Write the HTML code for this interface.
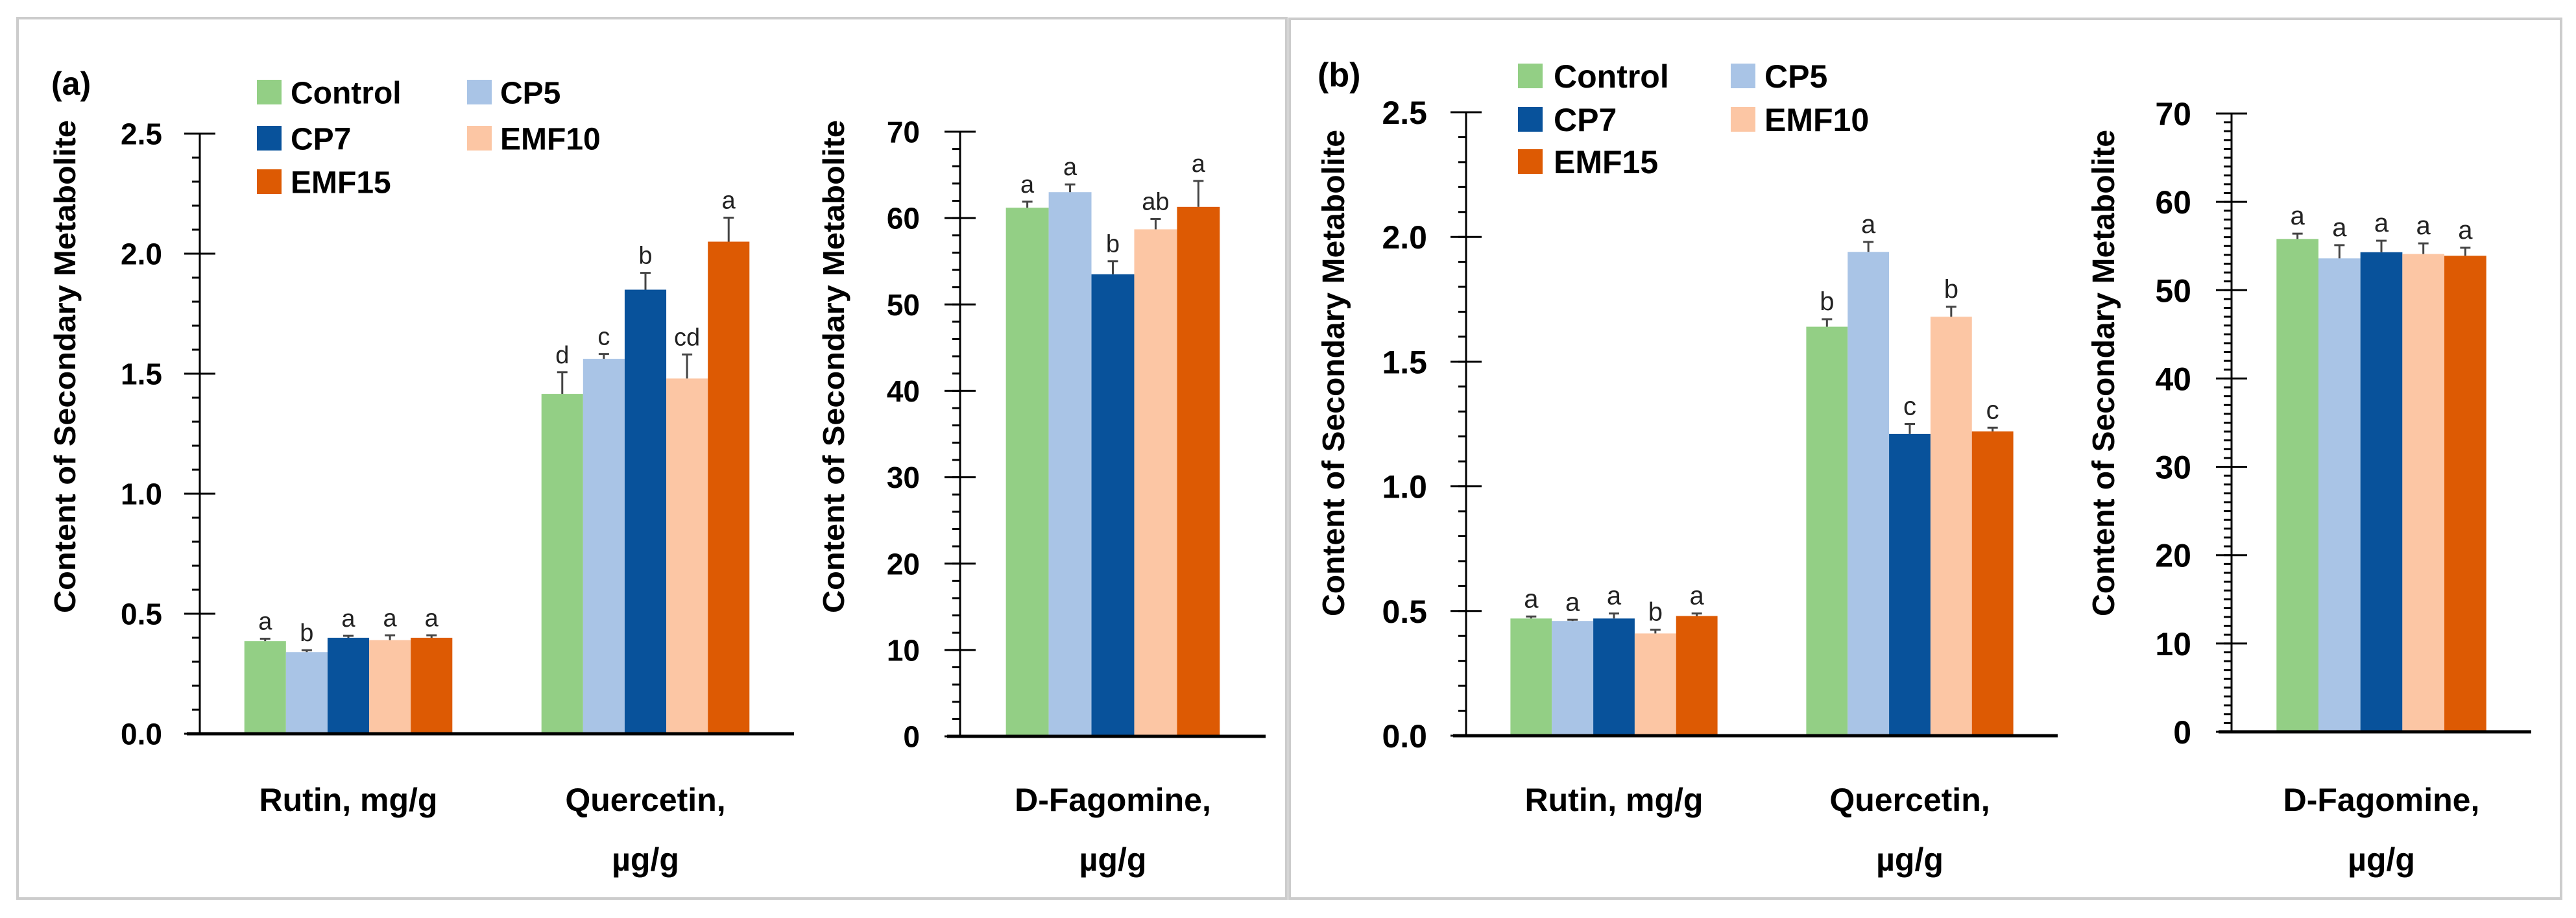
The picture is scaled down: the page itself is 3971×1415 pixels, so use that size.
<!DOCTYPE html>
<html><head><meta charset="utf-8"><style>
html,body{margin:0;padding:0;background:#fff}
svg{display:block;font-family:"Liberation Sans",sans-serif}
</style></head><body>
<svg id="fig" width="3971" height="1415" viewBox="0 0 3971 1415">
<rect x="27" y="28" width="1956" height="1357" fill="none" stroke="#ccc" stroke-width="4"/>
<rect x="1988" y="29" width="1960" height="1356" fill="none" stroke="#ccc" stroke-width="4"/>
<text x="79" y="146" font-size="50" font-weight="bold">(a)</text>
<text x="2031" y="133" font-size="52" font-weight="bold">(b)</text>
</svg>
<script>
const series = ["Control","CP5","CP7","EMF10","EMF15"];
const colors = ["#93cf85","#a9c4e6","#08529b","#fcc6a4","#dd5a03"];
const catsLeft = [["Rutin, mg/g"],["Quercetin,","\u00b5g/g"]];
const catsRight = [["D-Fagomine,","\u00b5g/g"]];
const aRutin = [0.386,0.34,0.40,0.39,0.40];
const aRutinErr = [0.01,0.008,0.008,0.02,0.01];
const aRutinLet = ["a","b","a","a","a"];
const aQuer = [1.416,1.562,1.85,1.48,2.05];
const aQuerErr = [0.09,0.02,0.07,0.10,0.10];
const aQuerLet = ["d","c","b","cd","a"];
const aFag = [61.2,63.0,53.5,58.7,61.3];
const aFagErr = [0.7,0.9,1.5,1.2,3.0];
const aFagLet = ["a","a","b","ab","a"];
const bRutin = [0.47,0.46,0.47,0.41,0.48];
const bRutinErr = [0.008,0.005,0.02,0.015,0.01];
const bRutinLet = ["a","a","a","b","a"];
const bQuer = [1.64,1.94,1.21,1.68,1.22];
const bQuerErr = [0.03,0.04,0.04,0.04,0.015];
const bQuerLet = ["b","a","c","b","c"];
const bFag = [55.8,53.6,54.3,54.1,53.9];
const bFagErr = [0.6,1.5,1.3,1.2,0.9];
const bFagLet = ["a","a","a","a","a"];
const leftTicks = ["0.0","0.5","1.0","1.5","2.0","2.5"];
const rightTicks = ["0","10","20","30","40","50","60","70"];

const NS="http://www.w3.org/2000/svg";
const svg=document.getElementById('fig');
function mk(tag,attrs,parent){const e=document.createElementNS(NS,tag);for(const k in attrs)e.setAttribute(k,attrs[k]);(parent||svg).appendChild(e);return e;}

function chart(o){
  const g=mk('g',{});
  
  
  const y=v=>o.y0-(v-o.min)/(o.max-o.min)*(o.y0-o.yTop);
  for(let v=o.min;v<=o.max+1e-9;v+=o.minor){
    const t=mk('line',{x1:o.x0-12,x2:o.x0,y1:y(v),y2:y(v),stroke:'#000','stroke-width':3},g);
    
    
  }
  o.ticks.forEach(s=>{
    const v=parseFloat(s);
    const t=mk('line',{x1:o.x0-24,x2:o.x0+24,y1:y(v),y2:y(v),stroke:'#000','stroke-width':3},g);
    
    
    const tx=mk('text',{x:o.labR,y:y(v)+o.tf*0.36,'font-size':o.tf,'font-weight':'bold','text-anchor':'end'},g);
    tx.textContent=s;
    
    
  });
  const ax=mk('line',{x1:o.x0,x2:o.x0,y1:o.yTop,y2:o.y0,stroke:'#000','stroke-width':3},g);
  
  
  const tt=mk('text',{x:0,y:0,'font-size':o.titleF,'font-weight':'bold','text-anchor':'middle',transform:`translate(${o.titleX},${o.titleY}) rotate(-90)`,textLength:o.titleLen,lengthAdjust:'spacingAndGlyphs'},g);
  tt.textContent='Content of Secondary Metabolite';
  
  
  const catW=(o.x1-o.x0)/o.groups.length;
  const bw=catW*0.7/5;
  o.groups.forEach((gr,gi)=>{
    const cx=o.x0+catW*(gi+0.5);
    gr.vals.forEach((v,i)=>{
      const bx=cx-2.5*bw+i*bw;
      const r=mk('rect',{x:bx,y:y(v),width:bw,height:o.y0-y(v),fill:colors[i]},g);
      
      
      const et=y(v+gr.err[i]);
      const el=mk('line',{x1:bx+bw/2,x2:bx+bw/2,y1:y(v),y2:et,stroke:'#444','stroke-width':3},g);
      
      
      const ec=mk('line',{x1:bx+bw/2-8,x2:bx+bw/2+8,y1:et,y2:et,stroke:'#444','stroke-width':3},g);
      
      
      const lt=mk('text',{x:bx+bw/2,y:et-14,'font-size':o.lf,'text-anchor':'middle',fill:'#222'},g);
      lt.textContent=gr.lets[i];
      
      
    });
    gr.label.forEach((s,li)=>{
      const ct=mk('text',{x:cx,y:o.catY+li*92,'font-size':o.cf,'font-weight':'bold','text-anchor':'middle'},g);
      ct.textContent=s;
      
      
    });
  });
  const base=mk('line',{x1:o.x0-20,x2:o.x1,y1:o.y0,y2:o.y0,stroke:'#000','stroke-width':5},g);
  
  
}

function legend(x1,x2,tx1,tx2,rows,sw,f){
  const pos=[[x1,tx1,rows[0]],[x2,tx2,rows[0]],[x1,tx1,rows[1]],[x2,tx2,rows[1]],[x1,tx1,rows[2]]];
  series.forEach((s,i)=>{
    const [sx,tx,ry]=pos[i];
    const r=mk('rect',{x:sx,y:ry-sw/2,width:sw,height:sw,fill:colors[i]});
    
    
    const t=mk('text',{x:tx,y:ry+f*0.36,'font-size':f,'font-weight':'bold'});
    t.textContent=s;
    
    
  });
}

chart({name:'panel-a-left-chart',x0:308,x1:1224,y0:1131,yTop:206,min:0,max:2.5,minor:0.1,ticks:leftTicks,labR:250,tf:46,titleX:116,titleY:565,titleF:46,titleLen:760,lf:38,cf:50,catY:1250,
  groups:[{vals:aRutin,err:aRutinErr,lets:aRutinLet,label:catsLeft[0]},{vals:aQuer,err:aQuerErr,lets:aQuerLet,label:catsLeft[1]}]});
chart({name:'panel-a-right-chart',x0:1480,x1:1951,y0:1135,yTop:203,min:0,max:70,minor:2,ticks:rightTicks,labR:1418,tf:46,titleX:1301,titleY:565,titleF:46,titleLen:760,lf:38,cf:50,catY:1250,
  groups:[{vals:aFag,err:aFagErr,lets:aFagLet,label:catsRight[0]}]});
chart({name:'panel-b-left-chart',x0:2260,x1:3172,y0:1134,yTop:173,min:0,max:2.5,minor:0.1,ticks:leftTicks,labR:2200,tf:50,titleX:2072,titleY:575,titleF:48,titleLen:750,lf:40,cf:50,catY:1250,
  groups:[{vals:bRutin,err:bRutinErr,lets:bRutinLet,label:catsLeft[0]},{vals:bQuer,err:bQuerErr,lets:bQuerLet,label:catsLeft[1]}]});
chart({name:'panel-b-right-chart',x0:3440,x1:3902,y0:1128,yTop:175,min:0,max:70,minor:1,ticks:rightTicks,labR:3378,tf:50,titleX:3259,titleY:575,titleF:48,titleLen:750,lf:40,cf:50,catY:1250,
  groups:[{vals:bFag,err:bFagErr,lets:bFagLet,label:catsRight[0]}]});
legend(396,720,448,771,[142,213,280],38,48);
legend(2340,2668,2395,2720,[117,184,249],38,50);
</script>
</body></html>
